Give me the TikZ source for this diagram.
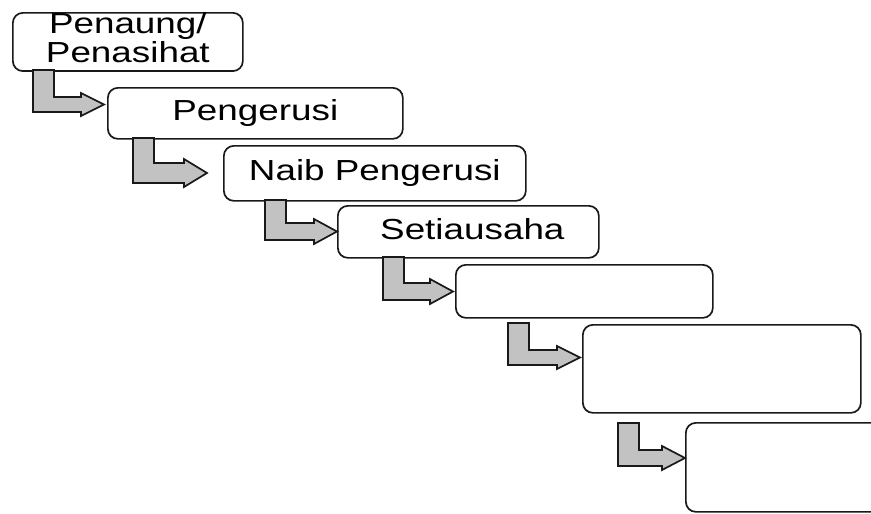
\documentclass[tikz,border=0pt]{standalone}
\usepackage{fontspec}
\setmainfont{Liberation Sans}
\usepackage{graphicx}
\newcommand\wtxt[1]{\scalebox{1.27}[1]{#1}}
\newcommand\bentarrow[5]{%
  \filldraw[arrowshape] (#1,#2) -- (#1+21,#2) -- (#1+21,#3) -- (#5-23,#3) -- (#5-23,#3-4)
    -- (#5,{(#3+#4)/2}) -- (#5-23,#4+4) -- (#5-23,#4) -- (#1,#4) -- cycle;}
\begin{document}
\begin{tikzpicture}[x=1pt,y=-1pt,
  box/.style={draw=black!90, line width=1.7pt, rounded corners=10pt, fill=white,
    anchor=north west, inner sep=0pt, font=\fontsize{29}{27}\selectfont},
  onel/.style={box, text height=21pt, text depth=6pt},
  arrowshape/.style={draw=black!90, fill=black!24, line width=1.7pt, line join=miter}]
\clip (0,0) rectangle (871,514);
\fill[white] (0,0) rectangle (871,514);
\node[box, minimum width=230pt, minimum height=58pt] (b1) at (12,12)
  {\wtxt{\begin{tabular}{@{}c@{}}Penaung/\\Penasihat\end{tabular}}};
\node[onel, minimum width=295pt, minimum height=51pt] (b2) at (107,87) {\wtxt{Pengerusi}};
\node[onel, minimum width=302pt, minimum height=55pt] (b3) at (223,145) {\wtxt{Naib Pengerusi}};
\node[onel, minimum width=261pt, minimum height=52pt] (b4) at (337,205) {\hspace*{8pt}\wtxt{Setiausaha}};
\node[onel, minimum width=257pt, minimum height=53pt] (b5) at (455,264) {};
\node[onel, minimum width=278pt, minimum height=88pt] (b6) at (582,324) {};
\node[onel, minimum width=230pt, minimum height=89pt] (b7) at (685,422) {};
\bentarrow{33}{70}{97}{112}{104}
\bentarrow{133}{138}{163}{183}{207}
\bentarrow{265}{200}{223}{240}{337}
\bentarrow{383}{257}{283}{300}{453}
\bentarrow{508}{323}{350}{365}{580}
\bentarrow{618}{423}{450}{466}{685}
\end{tikzpicture}
\end{document}
